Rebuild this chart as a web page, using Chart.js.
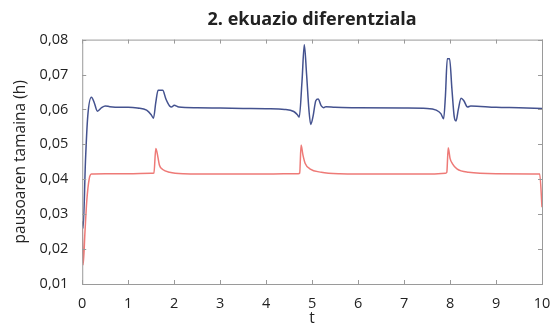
<!DOCTYPE html>
<html>
<head>
<meta charset="utf-8">
<script src="https://cdn.jsdelivr.net/npm/chart.js@4.4.1/dist/chart.umd.min.js"></script>
<style>
  html, body { margin: 0; padding: 0; background: #fff; }
  #wrap { width: 550px; height: 331px; }
</style>
</head>
<body>
<div id="wrap"><canvas id="stepChart"></canvas></div>
<script>
// data
const tBlue = [0, 0.02, 0.07, 0.12, 0.2, 0.26, 0.33, 0.42, 0.5, 0.6, 0.8, 1.0, 1.2, 1.4, 1.5, 1.55, 1.6, 1.65, 1.75, 1.82, 1.9, 1.95, 2.0, 2.1, 2.5, 3.0, 3.5, 4.0, 4.4, 4.6, 4.68, 4.72, 4.78, 4.83, 4.88, 4.93, 4.97, 5.02, 5.08, 5.13, 5.2, 5.25, 5.3, 5.5, 6.0, 7.0, 7.5, 7.7, 7.8, 7.86, 7.9, 7.94, 7.99, 8.04, 8.09, 8.13, 8.18, 8.24, 8.3, 8.38, 8.45, 9.0, 9.5, 10.0];
const hBlue = [0.028, 0.026, 0.045, 0.058, 0.0635, 0.062, 0.0595, 0.0605, 0.061, 0.0608, 0.0606, 0.0606, 0.0604, 0.0598, 0.0585, 0.0575, 0.062, 0.0655, 0.0655, 0.063, 0.061, 0.0607, 0.0612, 0.0607, 0.0605, 0.0604, 0.0603, 0.0602, 0.06, 0.0594, 0.0585, 0.0578, 0.068, 0.0785, 0.07, 0.06, 0.0557, 0.058, 0.0625, 0.063, 0.061, 0.0605, 0.0608, 0.0606, 0.0605, 0.0604, 0.0603, 0.0598, 0.0588, 0.0573, 0.064, 0.0745, 0.0745, 0.066, 0.058, 0.0567, 0.06, 0.0632, 0.0625, 0.0607, 0.061, 0.0606, 0.0605, 0.0603];

const tRed = [0, 0.02, 0.06, 0.1, 0.15, 0.2, 0.5, 1.0, 1.5, 1.56, 1.6, 1.63, 1.68, 1.75, 1.9, 2.2, 3.0, 4.0, 4.7, 4.73, 4.76, 4.8, 4.85, 4.95, 5.2, 5.6, 6.5, 7.5, 7.9, 7.93, 7.96, 8.0, 8.05, 8.15, 8.4, 9.0, 9.95, 10.0];
const hRed = [0.026, 0.0155, 0.025, 0.034, 0.04, 0.0415, 0.0416, 0.0416, 0.0417, 0.0418, 0.0488, 0.0475, 0.044, 0.0428, 0.042, 0.0416, 0.0415, 0.0415, 0.0416, 0.0418, 0.0498, 0.047, 0.0445, 0.043, 0.042, 0.0416, 0.0415, 0.0415, 0.0417, 0.042, 0.049, 0.046, 0.0445, 0.043, 0.042, 0.0416, 0.0415, 0.032];

const xTicks = [0, 1, 2, 3, 4, 5, 6, 7, 8, 9, 10];
const yTicks = [0.01, 0.02, 0.03, 0.04, 0.05, 0.06, 0.07, 0.08];

const toPoints = (ts, hs) => ts.map((t, i) => ({ x: t, y: hs[i] }));

// frame with small inward ticks on all four sides
const frameTicks = {
    id: 'frameTicks',
    afterDatasetsDraw(chart) {
        const { ctx, chartArea: a, scales } = chart;
        ctx.save();
        ctx.strokeStyle = '#9a9a9a';
        ctx.lineWidth = 1;
        ctx.strokeRect(a.left + 0.5, a.top + 0.5, a.right - a.left, a.bottom - a.top);
        ctx.beginPath();
        xTicks.forEach(v => {
            const px = Math.round(scales.x.getPixelForValue(v)) + 0.5;
            ctx.moveTo(px, a.bottom); ctx.lineTo(px, a.bottom - 4);
            ctx.moveTo(px, a.top); ctx.lineTo(px, a.top + 4);
        });
        yTicks.forEach(v => {
            const py = Math.round(scales.y.getPixelForValue(v)) + 0.5;
            ctx.moveTo(a.left, py); ctx.lineTo(a.left + 4, py);
            ctx.moveTo(a.right, py); ctx.lineTo(a.right - 4, py);
        });
        ctx.stroke();
        ctx.restore();
    }
};

let ctx = document.getElementById('stepChart').getContext('2d');
let chart = new Chart(ctx, {
    type: 'line',
    data: {
        datasets: [{
            label: 'blue',
            data: toPoints(tBlue, hBlue),
            borderColor: '#44528f',
            borderWidth: 1.5,
            pointRadius: 0,
            cubicInterpolationMode: 'monotone',
            fill: false
        }, {
            label: 'red',
            data: toPoints(tRed, hRed),
            borderColor: '#ee7a77',
            borderWidth: 1.5,
            pointRadius: 0,
            cubicInterpolationMode: 'monotone',
            fill: false
        }]
    },
    options: {
        responsive: true,
        maintainAspectRatio: false,
        animation: false,
        layout: { padding: { top: 2, right: 0, left: 11, bottom: 3 } },
        plugins: {
            legend: { display: false },
            tooltip: { enabled: false }
        },
        scales: {
            // top axis only carries the heading so it centres over the plot
            top: {
                type: 'linear',
                position: 'top',
                min: 0,
                max: 10,
                grid: { display: false },
                border: { display: false },
                ticks: { display: false },
                title: {
                    display: true,
                    text: '2. ekuazio diferentziala',
                    color: '#222',
                    font: { family: 'Open Sans', size: 18, weight: 'bold' },
                    padding: { top: 7, bottom: 1 }
                }
            },
            x: {
                type: 'linear',
                min: 0,
                max: 10,
                afterBuildTicks: s => { s.ticks = xTicks.map(v => ({ value: v })); },
                // keep the "10" label inside the canvas
                afterFit: s => { s.paddingRight = 8; },
                grid: { display: false },
                border: { display: false },
                ticks: {
                    color: '#222',
                    font: { family: 'Open Sans', size: 14.5 },
                    padding: 3,
                    maxRotation: 0
                },
                title: {
                    display: true,
                    text: 't',
                    color: '#222',
                    font: { family: 'Open Sans', size: 15.5 },
                    padding: { top: -6, bottom: 0 }
                }
            },
            y: {
                min: 0.01,
                max: 0.08,
                afterBuildTicks: s => { s.ticks = yTicks.map(v => ({ value: v })); },
                grid: { display: false },
                border: { display: false },
                ticks: {
                    color: '#222',
                    font: { family: 'Open Sans', size: 14.5 },
                    padding: 6,
                    callback: v => v.toFixed(2).replace('.', ',')
                },
                title: {
                    display: true,
                    text: 'pausoaren tamaina (h)',
                    color: '#222',
                    font: { family: 'Open Sans', size: 15.5 },
                    padding: { top: 0, bottom: 4 }
                }
            }
        }
    },
    plugins: [frameTicks]
});
</script>
</body>
</html>
